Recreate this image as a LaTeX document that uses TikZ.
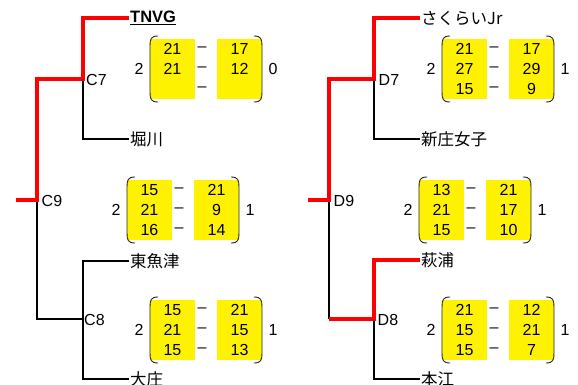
\documentclass[tikz,border=0pt]{standalone}
\usepackage{fontspec}
\setmainfont{Liberation Sans}
\newfontfamily\jp{Noto Sans CJK JP}
\newcommand\scorebox[5]{% #1 name, #2 X, #3 Y, #4 left, #5 right
  \fill[ybox] (#2,#3-10) rectangle (#2+45,#3+50);
  \fill[ybox] (#2+67,#3-10) rectangle (#2+112,#3+50);
  \draw[paren] (#2+8,#3-13) .. controls (#2+1,#3-13) and (#2,#3-10) .. (#2,#3-3) -- (#2,#3+43) .. controls (#2,#3+50) and (#2+1,#3+53) .. (#2+8,#3+53);
  \draw[paren] (#2+104,#3-13) .. controls (#2+111,#3-13) and (#2+112,#3-10) .. (#2+112,#3-3) -- (#2+112,#3+43) .. controls (#2+112,#3+50) and (#2+111,#3+53) .. (#2+104,#3+53);
  \node[num] (#1-l) at (#2-11,#3+20) {#4};
  \node[num] (#1-r) at (#2+123,#3+20) {#5};
}
\newcommand\scorerow[5]{% #1 name, #2 X, #3 Y, #4 a, #5 b
  \node[num] (#1-a) at (#2+22.5,#3) {#4};
  \node[num] (#1-d) at (#2+52,#3) {–};
  \node[num] (#1-b) at (#2+89.5,#3) {#5};
}
\begin{document}
\begin{tikzpicture}[x=1pt,y=-1pt,
  win/.style={draw=red,line width=3.6pt},
  lose/.style={draw=black,line width=2pt},
  team/.style={anchor=west,inner sep=1pt,font=\jp\fontsize{16.5}{16.5}\selectfont},
  mlabel/.style={anchor=west,inner sep=0.5pt,font=\fontsize{16}{16}\selectfont},
  num/.style={inner sep=0pt,font=\fontsize{16}{16}\selectfont},
  ybox/.style={fill=yellow,draw=none},
  paren/.style={draw=black!85,line width=0.9pt}]
\useasboundingbox (0,0) rectangle (578,385);

% ---------- left block ----------
\coordinate (c9e) at (16,200);
\coordinate (c9) at (37,200);
\coordinate (c7) at (83,79);
\coordinate (c8) at (83,319);
\node[team,font=\fontsize{16.5}{16.5}\selectfont\bfseries] (tnvg) at (129,18) {\underline{TNVG}};
\node[team] (hori) at (129,139) {堀川};
\node[team] (higa) at (129,261) {東魚津};
\node[team] (osho) at (129,379) {大庄};
\draw[lose] (c7) |- (hori.west);
\draw[lose] (c9) |- (c8);
\draw[lose] (c8) |- (higa.west);
\draw[lose] (c8) |- (osho.west);
\draw[win] (c9e) -- (c9) |- (c7) |- (tnvg.west);
\node[mlabel] (C7) at (85.5,80) {C7};
\node[mlabel] (C9) at (41,200.5) {C9};
\node[mlabel] (C8) at (83.5,320) {C8};

\scorebox{m7}{150}{49}{2}{0}
\scorerow{m7r1}{150}{49}{21}{17}
\scorerow{m7r2}{150}{69}{21}{12}
\node[num] (m7r3-d) at (202,89) {–};

\scorebox{m9}{127}{190}{2}{1}
\scorerow{m9r1}{127}{190}{15}{21}
\scorerow{m9r2}{127}{210}{21}{9}
\scorerow{m9r3}{127}{230}{16}{14}

\scorebox{m8}{150}{310}{2}{1}
\scorerow{m8r1}{150}{310}{15}{21}
\scorerow{m8r2}{150}{330}{21}{15}
\scorerow{m8r3}{150}{350}{15}{13}

% ---------- right block ----------
\coordinate (d9e) at (308,200);
\coordinate (d9) at (329,200);
\coordinate (d9b) at (329,319);
\coordinate (d7) at (374,79);
\coordinate (d8) at (374,319);
\node[team] (saku) at (420,18) {さくらいJr};
\node[team] (shin) at (420,139) {新庄女子};
\node[team] (aki) at (420,260) {萩浦};
\node[team] (hon) at (420,379) {本江};
\draw[lose] (d7) |- (shin.west);
\draw[lose] (d9) -- (d9b);
\draw[lose] (d8) |- (hon.west);
\draw[win] (d9e) -- (d9) |- (d7) |- (saku.west);
\draw[win] (d9b) -- (d8) |- (aki.west);
\node[mlabel] (D7) at (378,80) {D7};
\node[mlabel] (D9) at (333,200.5) {D9};
\node[mlabel] (D8) at (377,320) {D8};

\scorebox{n7}{442}{49}{2}{1}
\scorerow{n7r1}{442}{49}{21}{17}
\scorerow{n7r2}{442}{69}{27}{29}
\scorerow{n7r3}{442}{89}{15}{9}

\scorebox{n9}{419}{190}{2}{1}
\scorerow{n9r1}{419}{190}{13}{21}
\scorerow{n9r2}{419}{210}{21}{17}
\scorerow{n9r3}{419}{230}{15}{10}

\scorebox{n8}{442}{310}{2}{1}
\scorerow{n8r1}{442}{310}{21}{12}
\scorerow{n8r2}{442}{330}{15}{21}
\scorerow{n8r3}{442}{350}{15}{7}
\end{tikzpicture}
\end{document}
